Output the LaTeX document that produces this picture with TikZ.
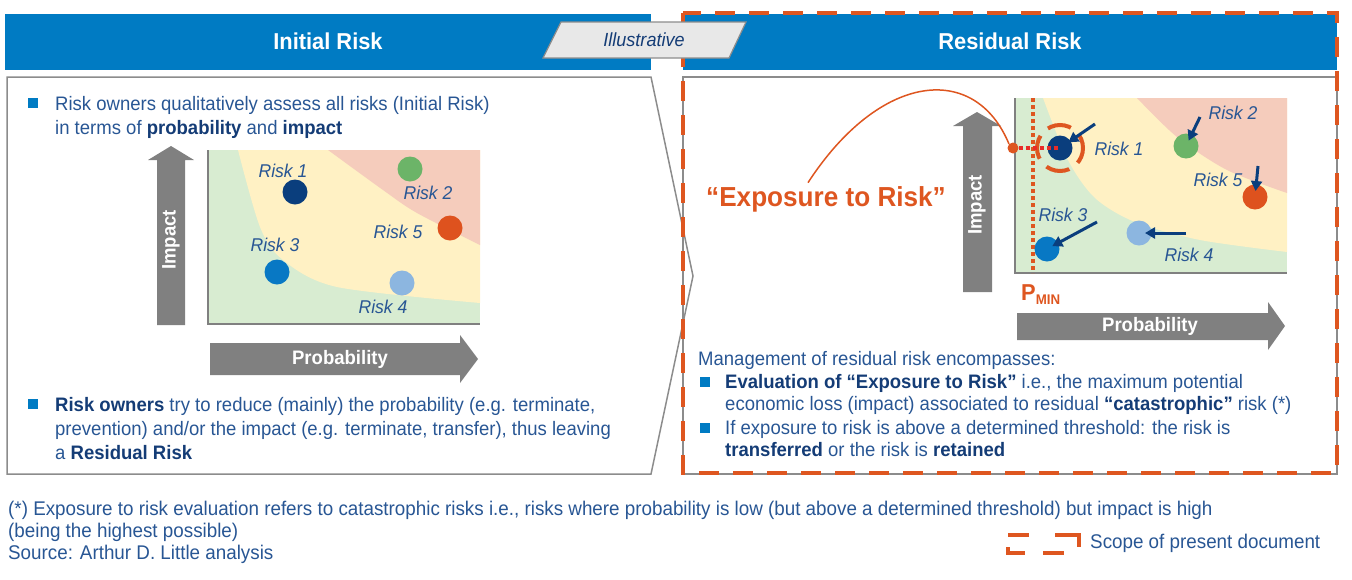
\documentclass[tikz,border=0pt]{standalone}
\usepackage{fontspec}
\setmainfont[FakeStretch=0.95]{Liberation Sans}
\usetikzlibrary{positioning,arrows.meta}
\definecolor{hdrblue}{RGB}{0,123,195}
\definecolor{txtblue}{RGB}{40,86,148}
\definecolor{bldblue}{RGB}{20,60,118}
\definecolor{adlorange}{RGB}{222,86,32}
\definecolor{pmred}{RGB}{232,44,40}
\definecolor{pnlgrey}{RGB}{140,140,140}
\definecolor{arrgrey}{RGB}{128,128,128}
\definecolor{zonegreen}{RGB}{216,236,209}
\definecolor{zoneyellow}{RGB}{255,241,196}
\definecolor{zonered}{RGB}{245,204,188}
\definecolor{dotnavy}{RGB}{10,62,125}
\definecolor{dotgreen}{RGB}{108,180,104}
\definecolor{dotorange}{RGB}{222,82,30}
\definecolor{dotblue}{RGB}{8,120,196}
\definecolor{dotlight}{RGB}{140,182,224}
\newcommand{\bfb}[1]{{\bfseries\color{bldblue}#1}}

\begin{document}
\begin{tikzpicture}[x=1pt,y=-1pt,
  bodytxt/.style={anchor=north west,inner sep=0pt,align=left,text=txtblue,font=\fontsize{19.5}{24.5}\selectfont},
  bulletsq/.style={fill=hdrblue,minimum size=10pt,inner sep=0pt},
  risklbl/.style={text=txtblue,font=\fontsize{18.5}{20}\selectfont\itshape},
  riskdot/.style={circle,minimum size=25pt,inner sep=0pt},
  axtitle/.style={text=white,font=\fontsize{19.5}{20}\selectfont\bfseries},
  hdrtitle/.style={text=white,font=\fontsize{23}{24}\selectfont\bfseries},
  moveto/.style={draw=dotnavy,line width=3pt,-{Triangle[length=10pt,width=11pt]},shorten >=6pt}]
\useasboundingbox (0,0) rectangle (1352,579);

\fill[hdrblue] (5,14) rectangle (651,70);
\fill[hdrblue] (683,14) rectangle (1337,70);
\node[hdrtitle] (initial) at (328,41) {Initial Risk};
\node[hdrtitle] (residual) at (1010,41) {Residual Risk};

\draw[pnlgrey,line width=1.5pt] (7,77) -- (651,77) -- (693,276) -- (651,474) -- (7,474) -- cycle;
\draw[pnlgrey,line width=1.5pt] (683,77) rectangle (1337,474);
\draw[adlorange,line width=4pt,dash pattern=on 20pt off 14pt] (683,13) rectangle (1337,473);

\draw[pnlgrey,fill=gray!18,line width=1.2pt] (561,22) -- (746,22) -- (729,58) -- (543,58) -- cycle;
\node[text=bldblue,font=\fontsize{19}{20}\selectfont\itshape] (illus) at (644,40) {Illustrative};

% initial risk
\node[bulletsq] (b1) at (33,103) {};
\node[bodytxt] (t1) at (55,96) {Risk owners qualitatively assess all risks (Initial Risk)\\in terms of \bfb{probability} and \bfb{impact}};

\fill[zonegreen] (208,150) rectangle (480,324);
\fill[zoneyellow] plot[smooth] coordinates {(238,150) (260,227) (283,260) (337,287) (480,303)} -- (480,150) -- cycle;
\fill[zonered] plot[smooth] coordinates {(328,150) (383,190) (417,213) (480,245)} -- (480,150) -- cycle;
\draw[arrgrey,line width=2pt] (208,150) -- (208,324) -- (480,324);

\fill[arrgrey] (157,325) -- (157,160) -- (148,160) -- (171,146) -- (194,160) -- (185,160) -- (185,325) -- cycle;
\node[axtitle,rotate=90] (imp1) at (171,240) {Impact};
\fill[arrgrey] (210,343) -- (460,343) -- (460,335) -- (478,359) -- (460,383) -- (460,375) -- (210,375) -- cycle;
\node[axtitle] (prob1) at (340,359) {Probability};

\node[riskdot,fill=dotnavy] (rl1) at (295,192) {};
\node[riskdot,fill=dotgreen] (rl2) at (410,169) {};
\node[riskdot,fill=dotorange] (rl5) at (450,228) {};
\node[riskdot,fill=dotblue] (rl3) at (277,272) {};
\node[riskdot,fill=dotlight] (rl4) at (402,283) {};
\node[risklbl] (ll1) at (283,171) {Risk 1};
\node[risklbl] (ll2) at (428,193) {Risk 2};
\node[risklbl] (ll5) at (398,232) {Risk 5};
\node[risklbl] (ll3) at (275,245) {Risk 3};
\node[risklbl] (ll4) at (383,307) {Risk 4};

\node[bulletsq] (b2) at (33,404) {};
\node[bodytxt,font=\fontsize{19.5}{24}\selectfont] (t2) at (55,397) {\bfb{Risk owners} try to reduce (mainly) the probability (e.g. terminate,\\prevention) and/or the impact (e.g. terminate, transfer), thus leaving\\a \bfb{Residual Risk}};

% residual risk
\fill[zonegreen] (1015,98) rectangle (1287,273);
\fill[zoneyellow] plot[smooth] coordinates {(1043,98) (1068,160) (1095,198) (1135,222) (1200,240) (1287,252)} -- (1287,98) -- cycle;
\fill[zonered] plot[smooth] coordinates {(1137,98) (1177,137) (1227,170) (1287,193)} -- (1287,98) -- cycle;
\draw[arrgrey,line width=2pt] (1015,98) -- (1015,273) -- (1287,273);

\fill[arrgrey] (963,292) -- (963,126) -- (953,126) -- (977,112) -- (1001,126) -- (992,126) -- (992,292) -- cycle;
\node[axtitle,rotate=90] (imp2) at (977,205) {Impact};
\fill[arrgrey] (1017,313) -- (1268,313) -- (1268,302) -- (1285,326) -- (1268,350) -- (1268,340) -- (1017,340) -- cycle;
\node[axtitle] (prob2) at (1150,326) {Probability};

\coordinate (pmintop) at (1033,98);
\coordinate (pminbot) at (1033,273);
\draw[adlorange,line width=3.5pt,dash pattern=on 4pt off 3pt] (pmintop) -- (pminbot);
\node[text=adlorange,font=\fontsize{23}{24}\selectfont\bfseries,anchor=base west,inner sep=0pt] (pmin) at (1021,300) {P\raisebox{-4pt}{\fontsize{14}{15}\selectfont MIN}};

\node[riskdot,fill=dotnavy] (rr1) at (1060,148) {};
\node[riskdot,fill=dotgreen] (rr2) at (1186,146) {};
\node[riskdot,fill=dotorange] (rr5) at (1255,197) {};
\node[riskdot,fill=dotblue] (rr3) at (1047,249) {};
\node[riskdot,fill=dotlight] (rr4) at (1139,233) {};
\draw[adlorange,line width=4pt,dash pattern=on 24pt off 10.5pt,dash phase=8pt] (rr1.center) circle (23);
\node[circle,fill=adlorange,minimum size=11pt,inner sep=0pt] (pdot) at (1013,148) {};
\draw[pmred,line width=3.5pt,dash pattern=on 4pt off 3pt] (pdot.east) -- (rr1.center);

\node[risklbl] (lr1) at (1119,149) {Risk 1};
\node[risklbl] (lr2) at (1233,113) {Risk 2};
\node[risklbl] (lr5) at (1218,180) {Risk 5};
\node[risklbl] (lr3) at (1063,215) {Risk 3};
\node[risklbl] (lr4) at (1189,255) {Risk 4};

\coordinate (m1) at (1095,124);
\coordinate (m2) at (1200,117);
\coordinate (m5) at (1258,166);
\coordinate (m3) at (1097,222);
\coordinate (m4) at (1186,233);
\draw[moveto,shorten >=10pt] (m1) -- (rr1.center);
\draw[moveto] (m2) -- (rr2.center);
\draw[moveto] (m5) -- (rr5.center);
\draw[moveto] (m3) -- (rr3.center);
\draw[moveto] (m4) -- (rr4.center);

\node[text=adlorange,font=\fontsize{27.5}{28}\selectfont\bfseries] (expo) at (826,199) {“Exposure to Risk”};
\draw[adlorange,line width=1.5pt] ([xshift=-18pt]expo.north) .. controls (880,72) and (975,62) .. (pdot.north west);

\node[bodytxt,font=\fontsize{19.5}{22.5}\selectfont] (t3) at (698,351) {Management of residual risk encompasses:};
\node[bulletsq] (b3) at (705,382) {};
\node[bodytxt,font=\fontsize{19.5}{22.5}\selectfont] (t4) at (725,374) {\bfb{Evaluation of “Exposure to Risk”} i.e., the maximum potential\\economic loss (impact) associated to residual \bfb{“catastrophic”} risk (*)};
\node[bulletsq] (b4) at (705,428) {};
\node[bodytxt,font=\fontsize{19.5}{22.5}\selectfont] (t5) at (725,420) {If exposure to risk is above a determined threshold: the risk is\\\bfb{transferred} or the risk is \bfb{retained}};

% footer
\node[bodytxt,font=\fontsize{19.8}{22}\selectfont] (foot) at (8,501) {(*) Exposure to risk evaluation refers to catastrophic risks i.e., risks where probability is low (but above a determined threshold) but impact is high\\(being the highest possible)\\Source: Arthur D. Little analysis};
\draw[adlorange,line width=4pt] (1008,535) -- (1029,535);
\draw[adlorange,line width=4pt] (1055,535) -- (1079,535) -- (1079,547);
\draw[adlorange,line width=4pt] (1043,553) -- (1064,553);
\draw[adlorange,line width=4pt] (1008,547) -- (1008,553) -- (1025,553);
\node[bodytxt,anchor=west,font=\fontsize{19.8}{22}\selectfont] (scope) at (1090,543) {Scope of present document};
\end{tikzpicture}
\end{document}
